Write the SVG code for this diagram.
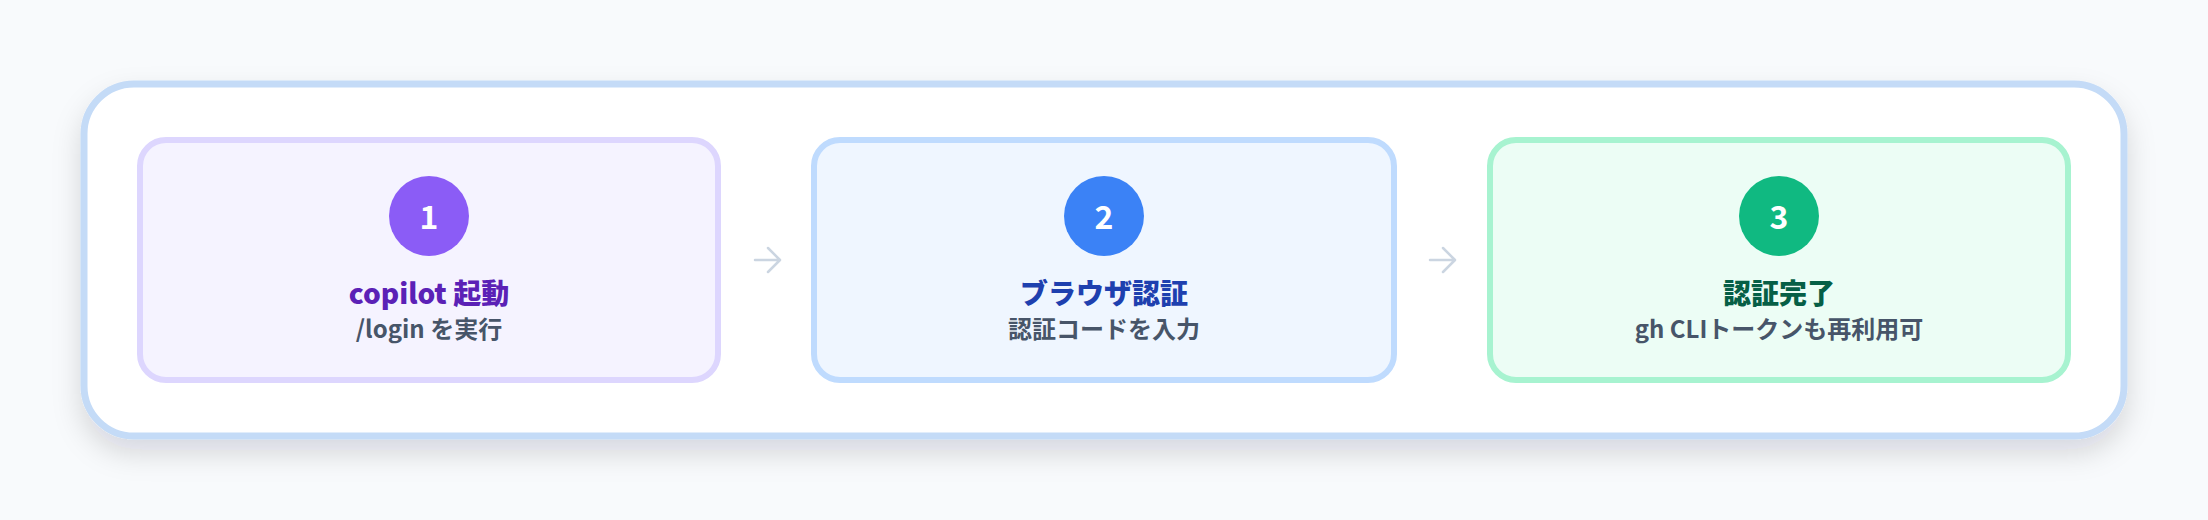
<svg xmlns="http://www.w3.org/2000/svg" width="2208" height="520" viewBox="0 0 2208 520">
<defs>
<filter id="sh" x="-10%" y="-20%" width="120%" height="160%">
<feGaussianBlur in="SourceAlpha" stdDeviation="14"/>
<feOffset dy="14" result="b"/>
<feFlood flood-color="#0f172a" flood-opacity="0.14"/>
<feComposite in2="b" operator="in"/>
<feMerge><feMergeNode/><feMergeNode in="SourceGraphic"/></feMerge>
</filter>
<style>
.t{font-family:"Noto Sans CJK JP","Noto Sans",sans-serif;text-anchor:middle}
.num{font-size:32px;font-weight:700;fill:#ffffff}
.title{font-size:28px;font-weight:800}
.sub{font-size:24px;font-weight:600;fill:#475569}
.node{stroke-width:6}
.arrow{fill:none;stroke:#cbd5e1;stroke-width:2.5;stroke-linecap:round;stroke-linejoin:round}
</style>
</defs>
<rect width="2208" height="520" fill="#f8fafc"/>
<g id="container">
<rect x="84" y="84" width="2040" height="352" rx="50" fill="#ffffff" stroke="#c4dbf7" stroke-width="7" filter="url(#sh)"/>
</g>
<g id="step1">
<rect class="node" x="140" y="140" width="578" height="240" rx="26" fill="#f5f3ff" stroke="#ddd6fe"/>
<circle cx="429" cy="216" r="40" fill="#8b5cf6"/>
<text class="t num" x="429" y="229">1</text>
<text class="t title" x="429" y="304" fill="#5b21b6">copilot 起動</text>
<text class="t sub" x="429" y="338">/login を実行</text>
</g>
<g id="step2">
<rect class="node" x="814" y="140" width="580" height="240" rx="26" fill="#eff6ff" stroke="#bfdbfe"/>
<circle cx="1104" cy="216" r="40" fill="#3b82f6"/>
<text class="t num" x="1104" y="229">2</text>
<text class="t title" x="1104" y="304" fill="#1e40af">ブラウザ認証</text>
<text class="t sub" x="1104" y="338">認証コードを入力</text>
</g>
<g id="step3">
<rect class="node" x="1490" y="140" width="578" height="240" rx="26" fill="#ecfdf5" stroke="#a7f3d0"/>
<circle cx="1779" cy="216" r="40" fill="#10b981"/>
<text class="t num" x="1779" y="229">3</text>
<text class="t title" x="1779" y="304" fill="#065f46">認証完了</text>
<text class="t sub" x="1779" y="338">gh CLIトークンも再利用可</text>
</g>
<g id="connectors">
<path class="arrow" d="M755 260 H779 M768 248 L780 260 L768 272"/>
<path class="arrow" d="M1430 260 H1454 M1443 248 L1455 260 L1443 272"/>
</g>
</svg>
